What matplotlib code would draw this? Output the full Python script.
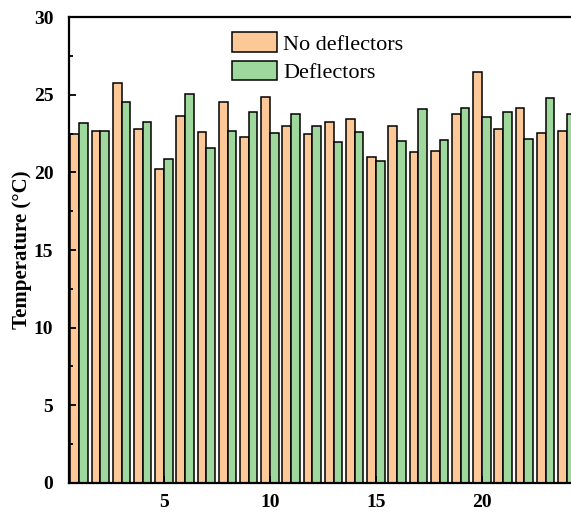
import numpy as np
import matplotlib
matplotlib.use('Agg')
import matplotlib.pyplot as plt
from matplotlib.ticker import MultipleLocator

plt.rcParams['font.family'] = ['Liberation Serif', 'DejaVu Serif']

positions = list(range(1, 25))
no_deflectors = [22.47, 22.69, 25.74, 22.82, 20.24, 23.61, 22.62, 24.51,
                 22.26, 24.83, 23.01, 22.47, 23.27, 23.44, 20.99, 22.97,
                 21.33, 21.40, 23.78, 26.44, 22.80, 24.17, 22.56, 22.67]
deflectors = [23.16, 22.69, 24.55, 23.23, 20.84, 25.05, 21.57, 22.67,
              23.89, 22.54, 23.76, 22.97, 21.98, 22.58, 20.73, 22.00,
              24.07, 22.07, 24.15, 23.59, 23.91, 22.15, 24.77, 23.76]
labels = ['No deflectors', 'Deflectors']
colors = ['#FDC897', '#9FD89D']

fig = plt.figure(figsize=(5.71, 5.16), dpi=100)
ax = fig.add_axes([0.1201, 0.064, 0.891, 0.903])

x = np.array(positions)
w = 0.41
ax.bar(x - w / 2, no_deflectors, w, color=colors[0], edgecolor='black',
       linewidth=1.1, label=labels[0])
ax.bar(x + w / 2, deflectors, w, color=colors[1], edgecolor='black',
       linewidth=1.1, label=labels[1])

ax.set_xlim(0.5, 24.5)
ax.set_ylim(0, 30)
ax.xaxis.set_major_locator(MultipleLocator(5))
ax.yaxis.set_major_locator(MultipleLocator(5))
ax.yaxis.set_minor_locator(MultipleLocator(2.5))
ax.tick_params(which='both', direction='in', width=1.3)
ax.tick_params(which='major', length=5)
ax.tick_params(which='minor', length=3)
ax.tick_params(axis='y', which='both', pad=11)
ax.tick_params(axis='x', which='both', pad=8, top=False)
for s in ax.spines.values():
    s.set_linewidth(1.6)

for t in ax.get_xticklabels() + ax.get_yticklabels():
    t.set_fontweight('bold')
    t.set_fontsize(14)

ax.set_ylabel('Temperature (°C)', fontsize=15, fontweight='bold')
ax.yaxis.set_label_coords(-0.072, 0.5)

fig.legend(loc='upper left', bbox_to_anchor=(232 / 571, 1 - 32 / 516),
           bbox_transform=fig.transFigure, frameon=False, fontsize=16,
           handlelength=2.03, handleheight=1.0, handletextpad=0.27,
           labelspacing=0.27, borderpad=0, borderaxespad=0)

fig.savefig('out.png', dpi=100)
